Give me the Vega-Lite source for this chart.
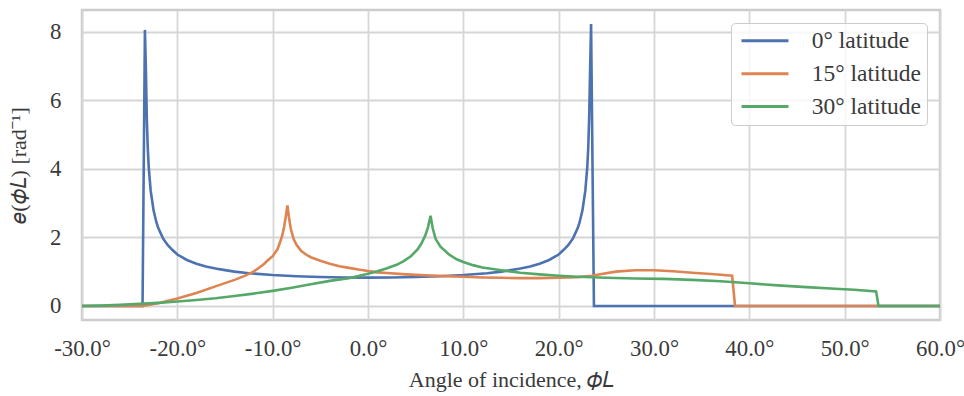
{
  "$schema": "https://vega.github.io/schema/vega-lite/v6.json",
  "width": 858,
  "height": 310,
  "autosize": {"type": "none"},
  "padding": {"left": 82, "top": 10, "right": 24, "bottom": 76},
  "background": "white",
  "config": {
    "font": "Liberation Serif",
    "view": {"stroke": "#cccccc", "strokeWidth": 2.5},
    "axis": {
      "labelFont": "Liberation Serif",
      "titleFont": "Liberation Serif",
      "labelFontSize": 22.8,
      "titleFontSize": 22,
      "labelColor": "#3a3a3a",
      "titleColor": "#3a3a3a",
      "titleFontWeight": "normal",
      "gridColor": "#d6d6d6",
      "gridWidth": 1.8,
      "domain": false,
      "ticks": false
    },
    "legend": {
      "labelFont": "Liberation Serif",
      "labelFontSize": 23.5,
      "labelColor": "#3a3a3a"
    }
  },
  "data": {
    "values": [
      {"lat": "0° latitude", "x": -30, "y": 0},
      {"lat": "0° latitude", "x": -23.65, "y": 0},
      {"lat": "0° latitude", "x": -23.4, "y": 8.05},
      {"lat": "0° latitude", "x": -23.3, "y": 6.9},
      {"lat": "0° latitude", "x": -23.2, "y": 5.45},
      {"lat": "0° latitude", "x": -23.1, "y": 4.6},
      {"lat": "0° latitude", "x": -23.0, "y": 4.05},
      {"lat": "0° latitude", "x": -22.8, "y": 3.37},
      {"lat": "0° latitude", "x": -22.5, "y": 2.8},
      {"lat": "0° latitude", "x": -22.2, "y": 2.44},
      {"lat": "0° latitude", "x": -22.0, "y": 2.27},
      {"lat": "0° latitude", "x": -21.5, "y": 1.97},
      {"lat": "0° latitude", "x": -21.0, "y": 1.77},
      {"lat": "0° latitude", "x": -20.5, "y": 1.63},
      {"lat": "0° latitude", "x": -20.0, "y": 1.5},
      {"lat": "0° latitude", "x": -19.0, "y": 1.34},
      {"lat": "0° latitude", "x": -18.0, "y": 1.23},
      {"lat": "0° latitude", "x": -17.0, "y": 1.15},
      {"lat": "0° latitude", "x": -16.0, "y": 1.09},
      {"lat": "0° latitude", "x": -15.0, "y": 1.045},
      {"lat": "0° latitude", "x": -14.0, "y": 1.0},
      {"lat": "0° latitude", "x": -12.5, "y": 0.955},
      {"lat": "0° latitude", "x": -10.0, "y": 0.9},
      {"lat": "0° latitude", "x": -7.5, "y": 0.865},
      {"lat": "0° latitude", "x": -5.0, "y": 0.842},
      {"lat": "0° latitude", "x": -2.5, "y": 0.83},
      {"lat": "0° latitude", "x": 0.0, "y": 0.825},
      {"lat": "0° latitude", "x": 2.5, "y": 0.83},
      {"lat": "0° latitude", "x": 5.0, "y": 0.842},
      {"lat": "0° latitude", "x": 7.5, "y": 0.865},
      {"lat": "0° latitude", "x": 10.0, "y": 0.9},
      {"lat": "0° latitude", "x": 12.5, "y": 0.955},
      {"lat": "0° latitude", "x": 14.0, "y": 1.0},
      {"lat": "0° latitude", "x": 15.0, "y": 1.045},
      {"lat": "0° latitude", "x": 16.0, "y": 1.09},
      {"lat": "0° latitude", "x": 17.0, "y": 1.15},
      {"lat": "0° latitude", "x": 18.0, "y": 1.23},
      {"lat": "0° latitude", "x": 19.0, "y": 1.34},
      {"lat": "0° latitude", "x": 20.0, "y": 1.5},
      {"lat": "0° latitude", "x": 20.5, "y": 1.63},
      {"lat": "0° latitude", "x": 21.0, "y": 1.77},
      {"lat": "0° latitude", "x": 21.5, "y": 1.97},
      {"lat": "0° latitude", "x": 22.0, "y": 2.27},
      {"lat": "0° latitude", "x": 22.2, "y": 2.44},
      {"lat": "0° latitude", "x": 22.5, "y": 2.8},
      {"lat": "0° latitude", "x": 22.8, "y": 3.37},
      {"lat": "0° latitude", "x": 23.0, "y": 4.05},
      {"lat": "0° latitude", "x": 23.1, "y": 4.6},
      {"lat": "0° latitude", "x": 23.2, "y": 5.5},
      {"lat": "0° latitude", "x": 23.3, "y": 6.9},
      {"lat": "0° latitude", "x": 23.4, "y": 8.22},
      {"lat": "0° latitude", "x": 23.7, "y": 0},
      {"lat": "0° latitude", "x": 60, "y": 0},

      {"lat": "15° latitude", "x": -30, "y": 0},
      {"lat": "15° latitude", "x": -23.6, "y": 0},
      {"lat": "15° latitude", "x": -22, "y": 0.08},
      {"lat": "15° latitude", "x": -20, "y": 0.22},
      {"lat": "15° latitude", "x": -18, "y": 0.38},
      {"lat": "15° latitude", "x": -16, "y": 0.57},
      {"lat": "15° latitude", "x": -14, "y": 0.76},
      {"lat": "15° latitude", "x": -13, "y": 0.87},
      {"lat": "15° latitude", "x": -12, "y": 1.0},
      {"lat": "15° latitude", "x": -11, "y": 1.2},
      {"lat": "15° latitude", "x": -10.5, "y": 1.33},
      {"lat": "15° latitude", "x": -10, "y": 1.45},
      {"lat": "15° latitude", "x": -9.5, "y": 1.65},
      {"lat": "15° latitude", "x": -9.2, "y": 1.88},
      {"lat": "15° latitude", "x": -9.0, "y": 2.05},
      {"lat": "15° latitude", "x": -8.8, "y": 2.3},
      {"lat": "15° latitude", "x": -8.6, "y": 2.65},
      {"lat": "15° latitude", "x": -8.45, "y": 2.93},
      {"lat": "15° latitude", "x": -8.3, "y": 2.6},
      {"lat": "15° latitude", "x": -8.1, "y": 2.25},
      {"lat": "15° latitude", "x": -7.8, "y": 1.95},
      {"lat": "15° latitude", "x": -7.5, "y": 1.78},
      {"lat": "15° latitude", "x": -7.0, "y": 1.6},
      {"lat": "15° latitude", "x": -6.5, "y": 1.5},
      {"lat": "15° latitude", "x": -6.0, "y": 1.42},
      {"lat": "15° latitude", "x": -5.0, "y": 1.32},
      {"lat": "15° latitude", "x": -4.0, "y": 1.23},
      {"lat": "15° latitude", "x": -3.0, "y": 1.16},
      {"lat": "15° latitude", "x": -2.0, "y": 1.11},
      {"lat": "15° latitude", "x": -1.0, "y": 1.06},
      {"lat": "15° latitude", "x": 0.0, "y": 1.02},
      {"lat": "15° latitude", "x": 1.0, "y": 0.98},
      {"lat": "15° latitude", "x": 2.0, "y": 0.96},
      {"lat": "15° latitude", "x": 4.0, "y": 0.92},
      {"lat": "15° latitude", "x": 6.0, "y": 0.89},
      {"lat": "15° latitude", "x": 8.0, "y": 0.87},
      {"lat": "15° latitude", "x": 10.0, "y": 0.85},
      {"lat": "15° latitude", "x": 12.0, "y": 0.83},
      {"lat": "15° latitude", "x": 14.0, "y": 0.82},
      {"lat": "15° latitude", "x": 16.0, "y": 0.81},
      {"lat": "15° latitude", "x": 18.0, "y": 0.81},
      {"lat": "15° latitude", "x": 20.0, "y": 0.82},
      {"lat": "15° latitude", "x": 22.0, "y": 0.84},
      {"lat": "15° latitude", "x": 23.5, "y": 0.88},
      {"lat": "15° latitude", "x": 24.5, "y": 0.93},
      {"lat": "15° latitude", "x": 26.0, "y": 1.0},
      {"lat": "15° latitude", "x": 28.0, "y": 1.04},
      {"lat": "15° latitude", "x": 30.0, "y": 1.04},
      {"lat": "15° latitude", "x": 32.0, "y": 1.01},
      {"lat": "15° latitude", "x": 34.0, "y": 0.97},
      {"lat": "15° latitude", "x": 36.0, "y": 0.93},
      {"lat": "15° latitude", "x": 38.2, "y": 0.88},
      {"lat": "15° latitude", "x": 38.5, "y": 0},
      {"lat": "15° latitude", "x": 60, "y": 0},

      {"lat": "30° latitude", "x": -30, "y": 0},
      {"lat": "30° latitude", "x": -28, "y": 0.01},
      {"lat": "30° latitude", "x": -26, "y": 0.03},
      {"lat": "30° latitude", "x": -24, "y": 0.06},
      {"lat": "30° latitude", "x": -22, "y": 0.09},
      {"lat": "30° latitude", "x": -20, "y": 0.13},
      {"lat": "30° latitude", "x": -18, "y": 0.175},
      {"lat": "30° latitude", "x": -16, "y": 0.225},
      {"lat": "30° latitude", "x": -14, "y": 0.29},
      {"lat": "30° latitude", "x": -12, "y": 0.36},
      {"lat": "30° latitude", "x": -10, "y": 0.44},
      {"lat": "30° latitude", "x": -8, "y": 0.53},
      {"lat": "30° latitude", "x": -6, "y": 0.63},
      {"lat": "30° latitude", "x": -4, "y": 0.73},
      {"lat": "30° latitude", "x": -2, "y": 0.81},
      {"lat": "30° latitude", "x": -1, "y": 0.87},
      {"lat": "30° latitude", "x": 0, "y": 0.94},
      {"lat": "30° latitude", "x": 1, "y": 1.01},
      {"lat": "30° latitude", "x": 2, "y": 1.1},
      {"lat": "30° latitude", "x": 3, "y": 1.2},
      {"lat": "30° latitude", "x": 3.7, "y": 1.3},
      {"lat": "30° latitude", "x": 4.5, "y": 1.45},
      {"lat": "30° latitude", "x": 5.2, "y": 1.65},
      {"lat": "30° latitude", "x": 5.6, "y": 1.82},
      {"lat": "30° latitude", "x": 6.0, "y": 2.05},
      {"lat": "30° latitude", "x": 6.3, "y": 2.3},
      {"lat": "30° latitude", "x": 6.56, "y": 2.63},
      {"lat": "30° latitude", "x": 6.8, "y": 2.25},
      {"lat": "30° latitude", "x": 7.1, "y": 1.95},
      {"lat": "30° latitude", "x": 7.6, "y": 1.73},
      {"lat": "30° latitude", "x": 8.5, "y": 1.5},
      {"lat": "30° latitude", "x": 9.3, "y": 1.36},
      {"lat": "30° latitude", "x": 10, "y": 1.28},
      {"lat": "30° latitude", "x": 11, "y": 1.19},
      {"lat": "30° latitude", "x": 12, "y": 1.12},
      {"lat": "30° latitude", "x": 14, "y": 1.04},
      {"lat": "30° latitude", "x": 16, "y": 0.97},
      {"lat": "30° latitude", "x": 18, "y": 0.92},
      {"lat": "30° latitude", "x": 20, "y": 0.88},
      {"lat": "30° latitude", "x": 22, "y": 0.85},
      {"lat": "30° latitude", "x": 25, "y": 0.82},
      {"lat": "30° latitude", "x": 28, "y": 0.8},
      {"lat": "30° latitude", "x": 31, "y": 0.79},
      {"lat": "30° latitude", "x": 34, "y": 0.76},
      {"lat": "30° latitude", "x": 37, "y": 0.72},
      {"lat": "30° latitude", "x": 40, "y": 0.66},
      {"lat": "30° latitude", "x": 43, "y": 0.6},
      {"lat": "30° latitude", "x": 46, "y": 0.55},
      {"lat": "30° latitude", "x": 49, "y": 0.5},
      {"lat": "30° latitude", "x": 51, "y": 0.47},
      {"lat": "30° latitude", "x": 53.3, "y": 0.42},
      {"lat": "30° latitude", "x": 53.55, "y": 0},
      {"lat": "30° latitude", "x": 60, "y": 0}
    ]
  },
  "mark": {"type": "line", "strokeWidth": 2.6, "clip": true},
  "encoding": {
    "x": {
      "field": "x",
      "type": "quantitative",
      "scale": {"domain": [-30, 60], "nice": false, "zero": false},
      "axis": {
        "values": [-30, -20, -10, 0, 10, 20, 30, 40, 50, 60],
        "labelExpr": "(datum.value < 0 ? '-' : '') + format(abs(datum.value), '.1f') + '°'",
        "labelPadding": 17,
        "labelFlush": false,
        "title": "Angle of incidence, 𝜙𝐿",
        "titlePadding": 10
      }
    },
    "y": {
      "field": "y",
      "type": "quantitative",
      "scale": {"domain": [-0.41, 8.63], "nice": false, "zero": false},
      "axis": {
        "values": [0, 2, 4, 6, 8],
        "labelPadding": 21,
        "title": "𝑒(𝜙𝐿) [rad⁻¹]",
        "titlePadding": 19
      }
    },
    "color": {
      "field": "lat",
      "type": "nominal",
      "scale": {
        "domain": ["0° latitude", "15° latitude", "30° latitude"],
        "range": ["#4C72B0", "#DD8452", "#55A868"]
      },
      "legend": {
        "title": null,
        "orient": "top-right",
        "offset": 13,
        "padding": 6,
        "symbolType": "M-3.5,0H3.5",
        "symbolSize": 180,
        "symbolStrokeWidth": 3,
        "symbolOffset": 16.25,
        "labelOffset": 35,
        "rowPadding": 7.9,
        "strokeColor": "#cccccc",
        "fillColor": "rgba(255,255,255,0.8)",
        "cornerRadius": 4
      }
    },
    "order": {"field": "x", "type": "quantitative"}
  }
}
